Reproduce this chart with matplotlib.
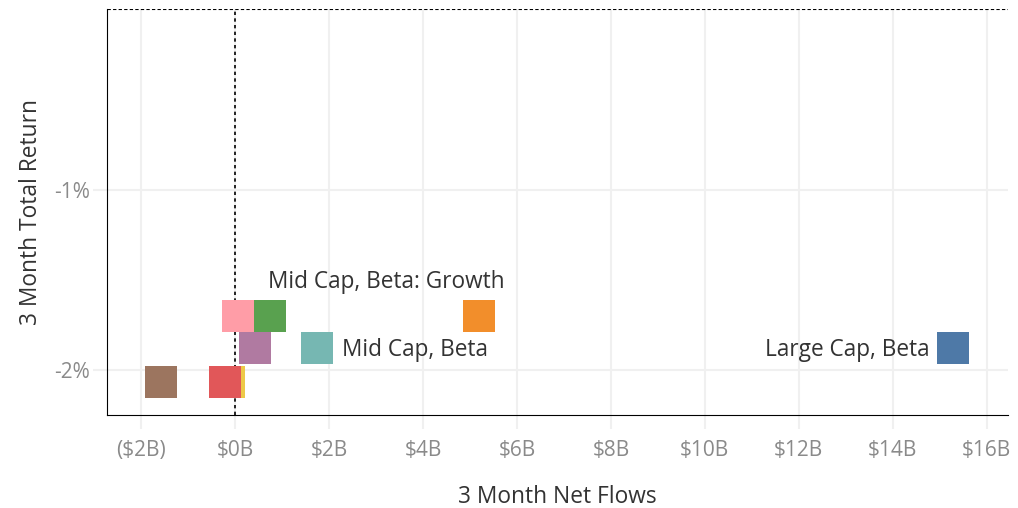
import matplotlib
matplotlib.use('Agg')
import matplotlib.pyplot as plt
from matplotlib.ticker import FuncFormatter

plt.rcParams['font.family'] = ['Open Sans', 'DejaVu Sans']

# data: net flows ($B) and total return (%)
names = ['Yellow', 'Brown', 'Red', 'Pink', 'Green', 'Purple',
         'Mid Cap, Beta', 'Orange', 'Large Cap, Beta']
flows = [-0.13, -1.58, -0.22, 0.06, 0.74, 0.42, 1.74, 5.19, 15.29]
returns = [-2.066, -2.066, -2.066, -1.70, -1.70, -1.878, -1.878, -1.70, -1.878]
colors = ['#edc948', '#9c755f', '#e15759', '#ff9da7', '#59a14f', '#b07aa1',
          '#76b7b2', '#f28e2b', '#4e79a7']

x_ticks = [-2, 0, 2, 4, 6, 8, 10, 12, 14, 16]
y_ticks = [-2, -1]

fig = plt.figure(figsize=(10.18, 5.08), dpi=100)
ax = fig.add_axes([0.105, 0.183, 0.885, 0.799])

for x, y, c in zip(flows, returns, colors):
    ax.plot(x, y, marker='s', markersize=23, color=c, markeredgewidth=0, linestyle='none', zorder=3)

# labels
ax.text(0.70, -1.51, 'Mid Cap, Beta: Growth', fontsize=16.3, color='#333333', ha='left', va='center')
ax.text(2.27, -1.89, 'Mid Cap, Beta', fontsize=16.3, color='#333333', ha='left', va='center')
ax.text(14.79, -1.89, 'Large Cap, Beta', fontsize=16.3, color='#333333', ha='right', va='center')

ax.axvline(0, color='black', linestyle=(0, (2, 2)), linewidth=1.2, zorder=2)
ax.axhline(0, color='black', linestyle=(0, (3, 2)), linewidth=0.8, zorder=2)

ax.set_xlim(-2.73, 16.45)
ax.set_ylim(-2.25, 0)

ax.set_xticks(x_ticks)
ax.set_yticks(y_ticks)
ax.xaxis.set_major_formatter(FuncFormatter(lambda v, p: f'(${abs(v):.0f}B)' if v < 0 else f'${v:.0f}B'))
ax.yaxis.set_major_formatter(FuncFormatter(lambda v, p: f'{v:.0f}%'))
ax.tick_params(axis='both', colors='#f0f0f0', labelcolor='#8a8a8a', labelsize=15, length=10, width=1.5)
ax.tick_params(axis='x', pad=8)
ax.tick_params(axis='y', pad=2)
ax.grid(True, color='#f0f0f0', linewidth=1.5, zorder=0)
ax.set_axisbelow(True)

for s in ['top', 'right']:
    ax.spines[s].set_visible(False)
ax.spines['left'].set_color('black')
ax.spines['bottom'].set_color('black')

ax.set_xlabel('3 Month Net Flows', fontsize=16.4, color='#333333', labelpad=17)
ax.set_ylabel('3 Month Total Return', fontsize=16.4, color='#333333', labelpad=8)

plt.savefig('out.png', dpi=100)
